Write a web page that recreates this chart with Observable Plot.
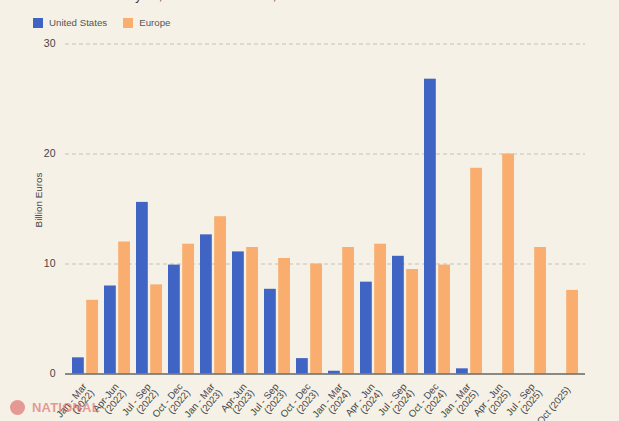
<!DOCTYPE html>
<html>
<head>
<meta charset="utf-8">
<script src="https://cdn.jsdelivr.net/npm/d3@7"></script>
<script src="https://cdn.jsdelivr.net/npm/@observablehq/plot@0.6"></script>
<style>
  html, body { margin: 0; padding: 0; background: #f5f1e7; overflow: hidden; }
  body { width: 619px; height: 421px; position: relative; font-family: "Liberation Sans", Arial, sans-serif; }
  #title { position: absolute; left: 33px; top: -11px; font-size: 12.5px; color: #333; white-space: nowrap; }
  #legend { position: absolute; left: 33px; top: 17px; font-size: 9.7px; color: #555; display: flex; align-items: center; }
  #legend .sw { display: inline-block; width: 10px; height: 10px; margin-right: 6px; }
  #legend .item { display: flex; align-items: center; margin-right: 16px; }
  #chart { position: absolute; left: 0; top: 30px; }
  #wm { position: absolute; left: 10px; top: 400px; display: flex; align-items: center; opacity: 0.55; }
  #wm .dot { width: 15px; height: 15px; border-radius: 50%; background: #d9534f; margin-right: 7px; }
  #wm .txt { font-weight: bold; font-size: 13px; color: #d9534f; letter-spacing: 0.2px; }
</style>
</head>
<body>
<div id="title">Allocations January 24, 2022 to October 31, 2025</div>
<div id="legend"></div>
<div id="chart"></div>
<div id="wm"><div class="dot"></div><div class="txt">NATIONAL</div></div>
<script>
const quarters = [
  "Jan - Mar\n(2022)", "Apr-Jun\n(2022)", "Jul - Sep\n(2022)", "Oct - Dec\n(2022)",
  "Jan - Mar\n(2023)", "Apr-Jun\n(2023)", "Jul - Sep\n(2023)", "Oct - Dec\n(2023)",
  "Jan - Mar\n(2024)", "Apr - Jun\n(2024)", "Jul - Sep\n(2024)", "Oct - Dec\n(2024)",
  "Jan - Mar\n(2025)", "Apr - Jun\n(2025)", "Jul - Sep\n(2025)", "Oct (2025)"
];
const seriesNames = ["United States", "Europe"];
const seriesColors = ["#4064c4", "#f9ad6e"];
const usValues = [1.47, 8.0, 15.6, 9.9, 12.65, 11.1, 7.7, 1.4, 0.25, 8.35, 10.7, 26.8, 0.47, 0, 0, 0];
const europeValues = [6.7, 12.0, 8.1, 11.8, 14.3, 11.5, 10.5, 10.0, 11.5, 11.8, 9.5, 9.9, 18.7, 20.0, 11.5, 7.6];
const yTicks = [0, 10, 20, 30];

const usData = quarters.map((q, i) => ({quarter: q, value: usValues[i]}));
const euData = quarters.map((q, i) => ({quarter: q, value: europeValues[i]}));

// legend
const legend = document.getElementById("legend");
seriesNames.forEach((n, i) => {
  const item = document.createElement("div");
  item.className = "item";
  item.innerHTML = `<span class="sw" style="background:${seriesColors[i]}"></span><span>${n}</span>`;
  legend.appendChild(item);
});

const bandGap = 14.2;
const chart = Plot.plot({
  width: 619,
  height: 391,
  marginLeft: 65,
  marginRight: 34,
  marginTop: 13.5,
  marginBottom: 47.5,
  style: {background: "transparent", fontFamily: "Liberation Sans, Arial, sans-serif", color: "#444"},
  x: {type: "band", domain: quarters, paddingInner: 0.18, paddingOuter: 0.09, label: null},
  y: {domain: [0, 30], label: null},
  marks: [
    Plot.gridY(yTicks.filter(d => d > 0), {stroke: "#c4c1ba", strokeOpacity: 1, strokeDasharray: "4,3"}),
    Plot.barY(usData, {x: "quarter", y: "value", fill: seriesColors[0], insetRight: bandGap}),
    Plot.barY(euData, {x: "quarter", y: "value", fill: seriesColors[1], insetLeft: bandGap}),
    Plot.ruleY([0], {stroke: "#666", strokeWidth: 1.5}),
    Plot.axisY({ticks: yTicks, tickSize: 0, tickPadding: 10, fontSize: 10.5, label: null}),
    Plot.axisX({tickRotate: -50, tickSize: 0, tickPadding: 14, dx: 3, fontSize: 9.7, label: null}),
    Plot.text(["Billion Euros"], {frameAnchor: "left", textAnchor: "middle", dx: -27, dy: -9, rotate: -90, fontSize: 9.9, fill: "#444"})
  ]
});
document.getElementById("chart").appendChild(chart);
</script>
</body>
</html>
